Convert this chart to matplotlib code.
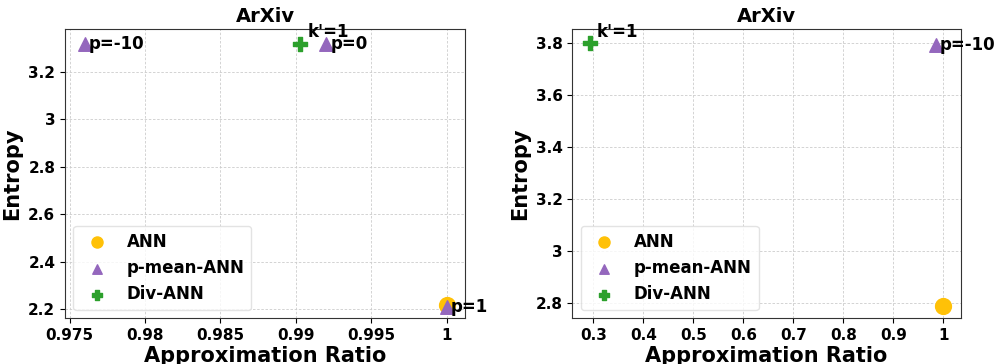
import matplotlib
matplotlib.use("Agg")
import matplotlib.pyplot as plt
from matplotlib.ticker import FormatStrFormatter, MultipleLocator

plt.rcParams["font.family"] = ["DejaVu Sans"]
plt.rcParams["font.weight"] = "bold"

title = "ArXiv"

# Left panel
l_ann_x = [1.0]
l_ann_y = [2.215]
l_pm_x = [0.976, 0.992, 1.0]
l_pm_y = [3.32, 3.32, 2.21]
l_pm_labels = ["p=-10", "p=0", "p=1"]
l_div_x = [0.9903]
l_div_y = [3.32]
l_div_labels = ["k'=1"]

# Right panel
r_ann_x = [1.0]
r_ann_y = [2.79]
r_pm_x = [0.985]
r_pm_y = [3.79]
r_pm_labels = ["p=-10"]
r_div_x = [0.293]
r_div_y = [3.798]
r_div_labels = ["k'=1"]

C_ANN = "#ffc107"
C_PM = "#9467bd"
C_DIV = "#2ca02c"

W, H = 997, 364
fig = plt.figure(figsize=(W / 100, H / 100), dpi=100)
ax1 = fig.add_axes([65 / W, (H - 318.3) / H, 400 / W, 289 / H])
ax2 = fig.add_axes([572.3 / W, (H - 318.3) / H, 388.7 / W, 289 / H])


def draw(ax, ann_x, ann_y, pm_x, pm_y, pm_labels, div_x, div_y, div_labels):
    ax.scatter(ann_x, ann_y, s=130, color=C_ANN, marker="o", label="ANN", zorder=3)
    ax.scatter(pm_x, pm_y, s=95, color=C_PM, marker="^", label="p-mean-ANN", zorder=4)
    ax.scatter(div_x, div_y, s=95, color=C_DIV, marker="P", label="Div-ANN", zorder=4)
    for x, y, t in zip(pm_x, pm_y, pm_labels):
        ax.annotate(t, (x, y), xytext=(3, 0), textcoords="offset points",
                    ha="left", va="center", fontsize=12, fontweight="bold",
                    annotation_clip=False, zorder=5)
    for x, y, t in zip(div_x, div_y, div_labels):
        ax.annotate(t, (x, y), xytext=(5, 8), textcoords="offset points",
                    ha="left", va="center", fontsize=12, fontweight="bold",
                    annotation_clip=False, zorder=5)
    ax.grid(True, linestyle=(0, (3, 2)), linewidth=0.6, color="#cccccc")
    ax.set_axisbelow(True)
    ax.set_title(title, fontsize=14, fontweight="bold", pad=5)
    ax.set_xlabel("Approximation Ratio", fontsize=15, fontweight="bold", labelpad=2)
    ax.set_ylabel("Entropy", fontsize=15, fontweight="bold")
    ax.xaxis.set_major_formatter(FormatStrFormatter("%g"))
    ax.yaxis.set_major_formatter(FormatStrFormatter("%g"))
    ax.tick_params(labelsize=11)
    for lab in ax.get_xticklabels() + ax.get_yticklabels():
        lab.set_fontweight("bold")
    for sp in ax.spines.values():
        sp.set_color("#333333")
    leg = ax.legend(loc="lower left", markerscale=0.7,
                    prop={"weight": "bold", "size": 12})
    leg.get_frame().set_edgecolor("#dddddd")


draw(ax1, l_ann_x, l_ann_y, l_pm_x, l_pm_y, l_pm_labels, l_div_x, l_div_y, l_div_labels)
ax1.set_xlim(0.9747, 1.0012)
ax1.set_ylim(2.161, 3.38)
ax1.xaxis.set_major_locator(MultipleLocator(0.005))
ax1.yaxis.set_major_locator(MultipleLocator(0.2))

draw(ax2, r_ann_x, r_ann_y, r_pm_x, r_pm_y, r_pm_labels, r_div_x, r_div_y, r_div_labels)
ax2.set_xlim(0.258, 1.0354)
ax2.set_ylim(2.742, 3.851)
ax2.xaxis.set_major_locator(MultipleLocator(0.1))
ax2.yaxis.set_major_locator(MultipleLocator(0.2))

fig.savefig("out.png", dpi=100)
